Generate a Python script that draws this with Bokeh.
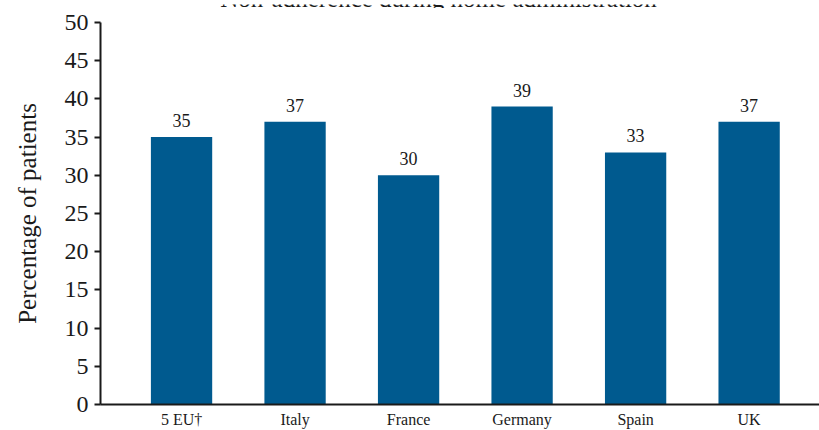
from bokeh.plotting import figure
from bokeh.layouts import column
from bokeh.models import ColumnDataSource, Range1d, FixedTicker, Label
from bokeh.core.properties import value
from bokeh.embed import file_html
from bokeh.resources import INLINE

categories = ["5 EU\u2020", "Italy", "France", "Germany", "Spain", "UK"]
percentages = [35, 37, 30, 39, 33, 37]
y_ticks = [0, 5, 10, 15, 20, 25, 30, 35, 40, 45, 50]
title_text = "Non-adherence during home administration"
y_label = "Percentage of patients"

FONT = "Liberation Serif"
BAR = "#005a8f"
INK = "#1a1a1a"

W = 819
LEFT = 100
TITLE_H = 8

# --- title strip (its upper part is cut off at the top of the picture, as in the reference)
# its frame is aligned with the chart frame below (x from LEFT to W), so data units = pixels
t = figure(width=W, height=TITLE_H, output_backend="svg", toolbar_location=None,
           x_range=Range1d(LEFT, W), y_range=Range1d(0, TITLE_H),
           x_axis_location=None, y_axis_location=None,
           min_border_left=LEFT, min_border_right=0, min_border_top=0, min_border_bottom=0)
t.outline_line_color = None
t.grid.grid_line_color = None
t.add_layout(Label(x=438, y=14, text=title_text, text_font=FONT, text_font_size="25px",
                   text_align="center", text_baseline="alphabetic", text_color=INK))

# --- main chart
xs = list(range(len(categories)))
src = ColumnDataSource(dict(x=xs, top=percentages, lbl=[str(v) for v in percentages]))

p = figure(width=W, height=430 - TITLE_H, output_backend="svg", toolbar_location=None,
           x_range=Range1d(-0.714, 5.62), y_range=Range1d(0, 50),
           min_border_left=LEFT, min_border_right=0, min_border_top=22 - TITLE_H,
           min_border_bottom=26)
p.outline_line_color = None
p.grid.grid_line_color = None
p.background_fill_color = "white"
p.border_fill_color = "white"

p.vbar(x="x", top="top", width=0.54, bottom=0, source=src, fill_color=BAR, line_color=None)
p.text(x="x", y="top", text="lbl", source=src, text_font=value(FONT), text_font_size="18px",
       text_align="center", text_baseline="bottom", y_offset=-10, text_color=INK)

# y axis
ya = p.yaxis[0]
ya.ticker = FixedTicker(ticks=y_ticks)
ya.minor_tick_line_color = None
ya.major_tick_in = 0
ya.major_tick_out = 6
ya.major_tick_line_width = 2
ya.major_tick_line_color = INK
ya.axis_line_width = 2
ya.axis_line_color = INK
ya.major_label_text_font = FONT
ya.major_label_text_font_size = "24px"
ya.major_label_text_color = INK
ya.major_label_standoff = 6
ya.axis_label = y_label
ya.axis_label_text_font = FONT
ya.axis_label_text_font_size = "25px"
ya.axis_label_text_font_style = "normal"
ya.axis_label_text_color = INK
ya.axis_label_standoff = 21

# x axis
xa = p.xaxis[0]
xa.ticker = FixedTicker(ticks=xs)
xa.major_label_overrides = {i: c for i, c in enumerate(categories)}
xa.minor_tick_line_color = None
xa.major_tick_in = 0
xa.major_tick_out = 0
xa.axis_line_width = 2
xa.axis_line_color = INK
xa.major_label_text_font = FONT
xa.major_label_text_font_size = "16px"
xa.major_label_text_color = INK
xa.major_label_standoff = 6

layout = column(t, p, spacing=0)
open("out.html", "w").write(file_html(layout, INLINE))
